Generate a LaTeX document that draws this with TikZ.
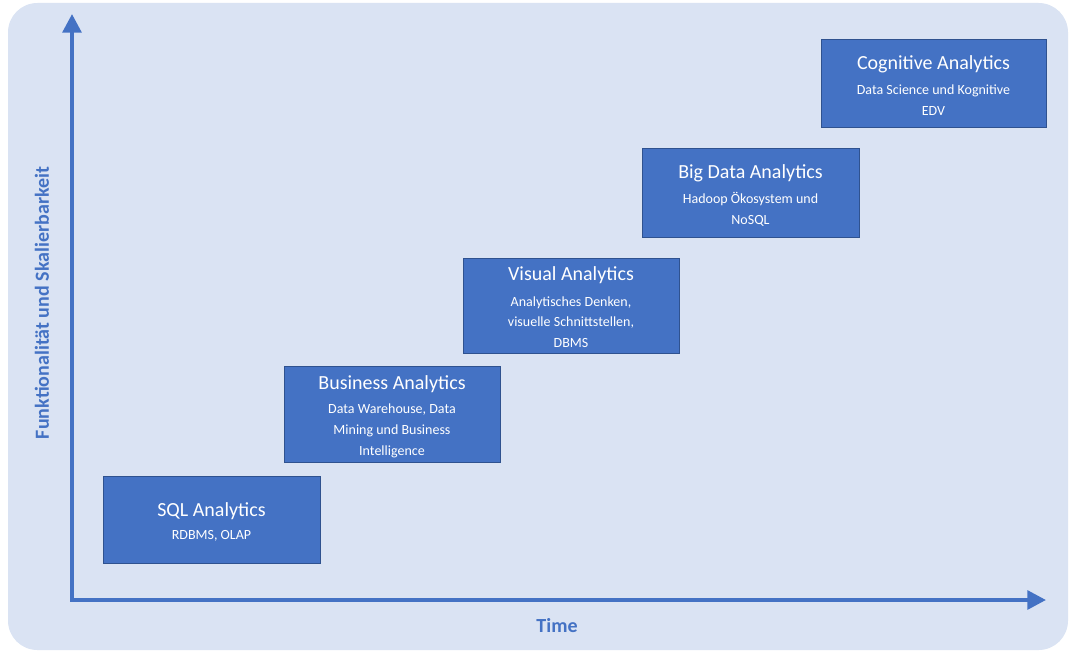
\documentclass[tikz,border=0pt]{standalone}
\usepackage{fontspec}
\setmainfont{Carlito}
\usetikzlibrary{arrows.meta}
\definecolor{bg}{HTML}{DAE3F3}
\definecolor{bx}{HTML}{4472C4}
\definecolor{bd}{HTML}{2F528F}
\begin{document}
\begin{tikzpicture}[x=0.75pt,y=-0.75pt,
 box/.style={draw=bd,fill=bx,line width=0.75pt},
 ttl/.style={text=white,font=\fontsize{15}{17}\selectfont,inner sep=0},
 sub/.style={text=white,font=\fontsize{10.5}{15.5}\selectfont,align=center,inner sep=0},
 ax/.style={draw=bx,line width=3pt,-{Triangle[length=14pt,width=14pt]}},
 axl/.style={text=bx,font=\bfseries\fontsize{15}{17}\selectfont}]
\useasboundingbox (0,0) rectangle (1074,656);
\fill[bg,rounded corners=22pt] (8,3) rectangle (1068,650);
\coordinate (o) at (72,600);
\coordinate (yt) at (72,14);
\coordinate (xt) at (1046,600);
\draw[ax] (o) -- (yt);
\draw[ax] ([xshift=-1.5pt]o) -- (xt);
\node[axl] (tl) at (557,626) {Time};
\node[axl,rotate=90] (fl) at (42,303) {Funktionalität und Skalierbarkeit};
\draw[box] (103,476) rectangle (320,563);
\node[ttl] (t1) at (211.5,511) {SQL Analytics};
\node[sub] (s1) at (211.5,536) {RDBMS, OLAP};
\draw[box] (284,366) rectangle (500,462);
\node[ttl] (t2) at (392,384) {Business Analytics};
\node[sub] (s2) at (392,431) {Data Warehouse, Data\\Mining und Business\\Intelligence};
\draw[box] (463,258) rectangle (679,353);
\node[ttl] (t3) at (571,275) {Visual Analytics};
\node[sub] (s3) at (571,322) {Analytisches Denken,\\visuelle Schnittstellen,\\DBMS};
\draw[box] (642,149) rectangle (859,237);
\node[ttl] (t4) at (750.5,173) {Big Data Analytics};
\node[sub] (s4) at (750.5,209) {Hadoop Ökosystem und\\NoSQL};
\draw[box] (821,40) rectangle (1046,128);
\node[ttl] (t5) at (933.5,64) {Cognitive Analytics};
\node[sub] (s5) at (933.5,100) {Data Science und Kognitive\\EDV};
\end{tikzpicture}
\end{document}
